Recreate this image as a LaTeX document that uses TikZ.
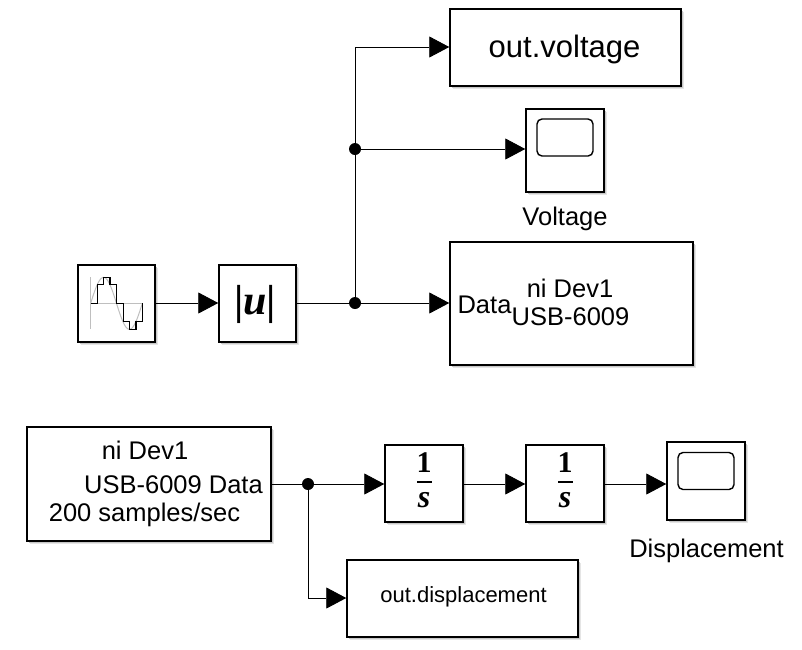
\documentclass[tikz,border=0pt]{standalone}
\usepackage{fontspec}
\setmainfont{Liberation Sans}
\newfontfamily\mathserif{Liberation Serif}
\usetikzlibrary{arrows.meta,shadows,positioning}
\tikzset{
  softshadow/.style={
    general shadow={shadow xshift=3pt,shadow yshift=-3pt,fill=black!10},
    general shadow={shadow xshift=2pt,shadow yshift=-2pt,fill=black!22}},
  blockbox/.style={draw=black,line width=1.5pt,fill=white,softshadow,inner sep=0pt},
  wire/.style={line width=0.9pt,draw=black},
  flow/.style={wire,-{Triangle[length=20pt,width=21pt]}},
  junction/.style={circle,fill=black,minimum size=12pt,inner sep=0pt},
  lbl/.style={inner sep=0pt,font=\fontsize{25.5pt}{27pt}\selectfont},
  screen/.style={draw=black,line width=1.4pt,rounded corners=5pt},
  onetxt/.style={inner sep=0pt,font=\mathserif\bfseries\fontsize{30pt}{32pt}\selectfont},
  stxt/.style={inner sep=0pt,font=\mathserif\bfseries\itshape\fontsize{32pt}{34pt}\selectfont},
  abstxt/.style={inner sep=0pt,font=\mathserif\bfseries\fontsize{42pt}{44pt}\selectfont}
}
\begin{document}
\begin{tikzpicture}[x=1pt,y=-1pt]
\useasboundingbox (0,0) rectangle (802,649);
% blocks
\node[blockbox,minimum width=231pt,minimum height=77pt] (outv) at (565.5,47.5) {};
\node[inner sep=0pt,font=\fontsize{31pt}{33pt}\selectfont] (outvt) at (564.5,49) {out.voltage};
\node[blockbox,minimum width=78pt,minimum height=83pt] (scopev) at (565,150.5) {};
\node[blockbox,minimum width=243pt,minimum height=123pt] (daqo) at (571.5,303.5) {};
\node[blockbox,minimum width=77pt,minimum height=77pt] (src) at (116.5,303.5) {};
\node[blockbox,minimum width=77pt,minimum height=77pt] (abs) at (257.5,303.5) {};
\node[blockbox,minimum width=244pt,minimum height=114pt] (daqi) at (149,484) {};
\node[blockbox,minimum width=78pt,minimum height=77pt] (int1) at (424,483.5) {};
\node[blockbox,minimum width=78pt,minimum height=77pt] (int2) at (565,483.5) {};
\node[blockbox,minimum width=78pt,minimum height=78pt] (scoped) at (706,481) {};
\node[blockbox,minimum width=231pt,minimum height=77pt] (outd) at (462.5,598.5) {};
% junctions
\node[junction] (j1) at (355,303) {};
\node[junction] (j2) at (355,149) {};
\node[junction] (j3) at (308,484) {};
\coordinate (c1) at (355,47);
\coordinate (c2) at (308,598);
% wires
\draw[flow] (src.east |- 0,303) -- (abs.west |- 0,303);
\draw[flow] (abs.east |- 0,303) -- (j1) -- (daqo.west |- 0,303);
\draw[wire] (j1) -- (j2);
\draw[flow] (j2) -- (c1) -- (outv.west |- c1);
\draw[flow] (j2) -- (scopev.west |- j2);
\draw[flow] (daqi.east |- j3) -- (j3) -- (int1.west |- j3);
\draw[flow] (j3) -- (c2) -- (outd.west |- c2);
\draw[flow] (int1.east |- j3) -- (int2.west |- j3);
\draw[flow] (int2.east |- j3) -- (scoped.west |- j3);
% source icon
\begin{scope}[shift={(60,250)},x=0.3333pt,y=-0.3333pt]
\draw[black!25,line width=1pt] (92,82) -- (92,238);
\draw[black!25,line width=1pt] (92,160) -- (247,160);
\draw[black!25,line width=1pt,domain=0:360,samples=60,smooth] plot ({92+\x/360*155},{160-78*sin(\x)});
\draw[black,line width=1.5pt] (92,160)--(112,160)--(112,104)--(131,104)--(131,83)--(150,83)--(150,104)--(170,104)--(170,160)--(190,160)--(190,214)--(208,214)--(208,238)--(228,238)--(228,214)--(247,214)--(247,160);
\end{scope}
% scope screens
\node[screen,minimum width=56pt,minimum height=37pt] (sv) at (565,137.5) {};
\node[screen,minimum width=56pt,minimum height=37pt] (sd) at (706,471) {};
% texts
\node[abstxt] (absu) at (255,304) {|\textit{u}|};
\node[onetxt] (i1a) at (424,463) {1};
\draw[line width=1.8pt] (417,482) -- (432,482);
\node[stxt] (i1b) at (424,500) {s};
\node[onetxt] (i2a) at (565,463) {1};
\draw[line width=1.8pt] (558,482) -- (573,482);
\node[stxt] (i2b) at (565,500) {s};
\node[lbl] (tv) at (565,219) {Voltage};
\node[lbl] (td) at (706.5,551) {Displacement};
\node[lbl] (t1) at (484.5,305) {Data};
\node[lbl] (t2) at (570,288.5) {ni Dev1};
\node[lbl] (t3) at (570.5,317) {USB-6009};
\node[lbl] (t4) at (145,450.5) {ni Dev1};
\node[lbl] (t5) at (173.5,484.5) {USB-6009 Data};
\node[lbl] (t6) at (144.5,514.5) {200 samples/sec};
\node[inner sep=0pt,font=\fontsize{22pt}{24pt}\selectfont] (t7) at (463.5,597) {out.displacement};
\end{tikzpicture}
\end{document}
